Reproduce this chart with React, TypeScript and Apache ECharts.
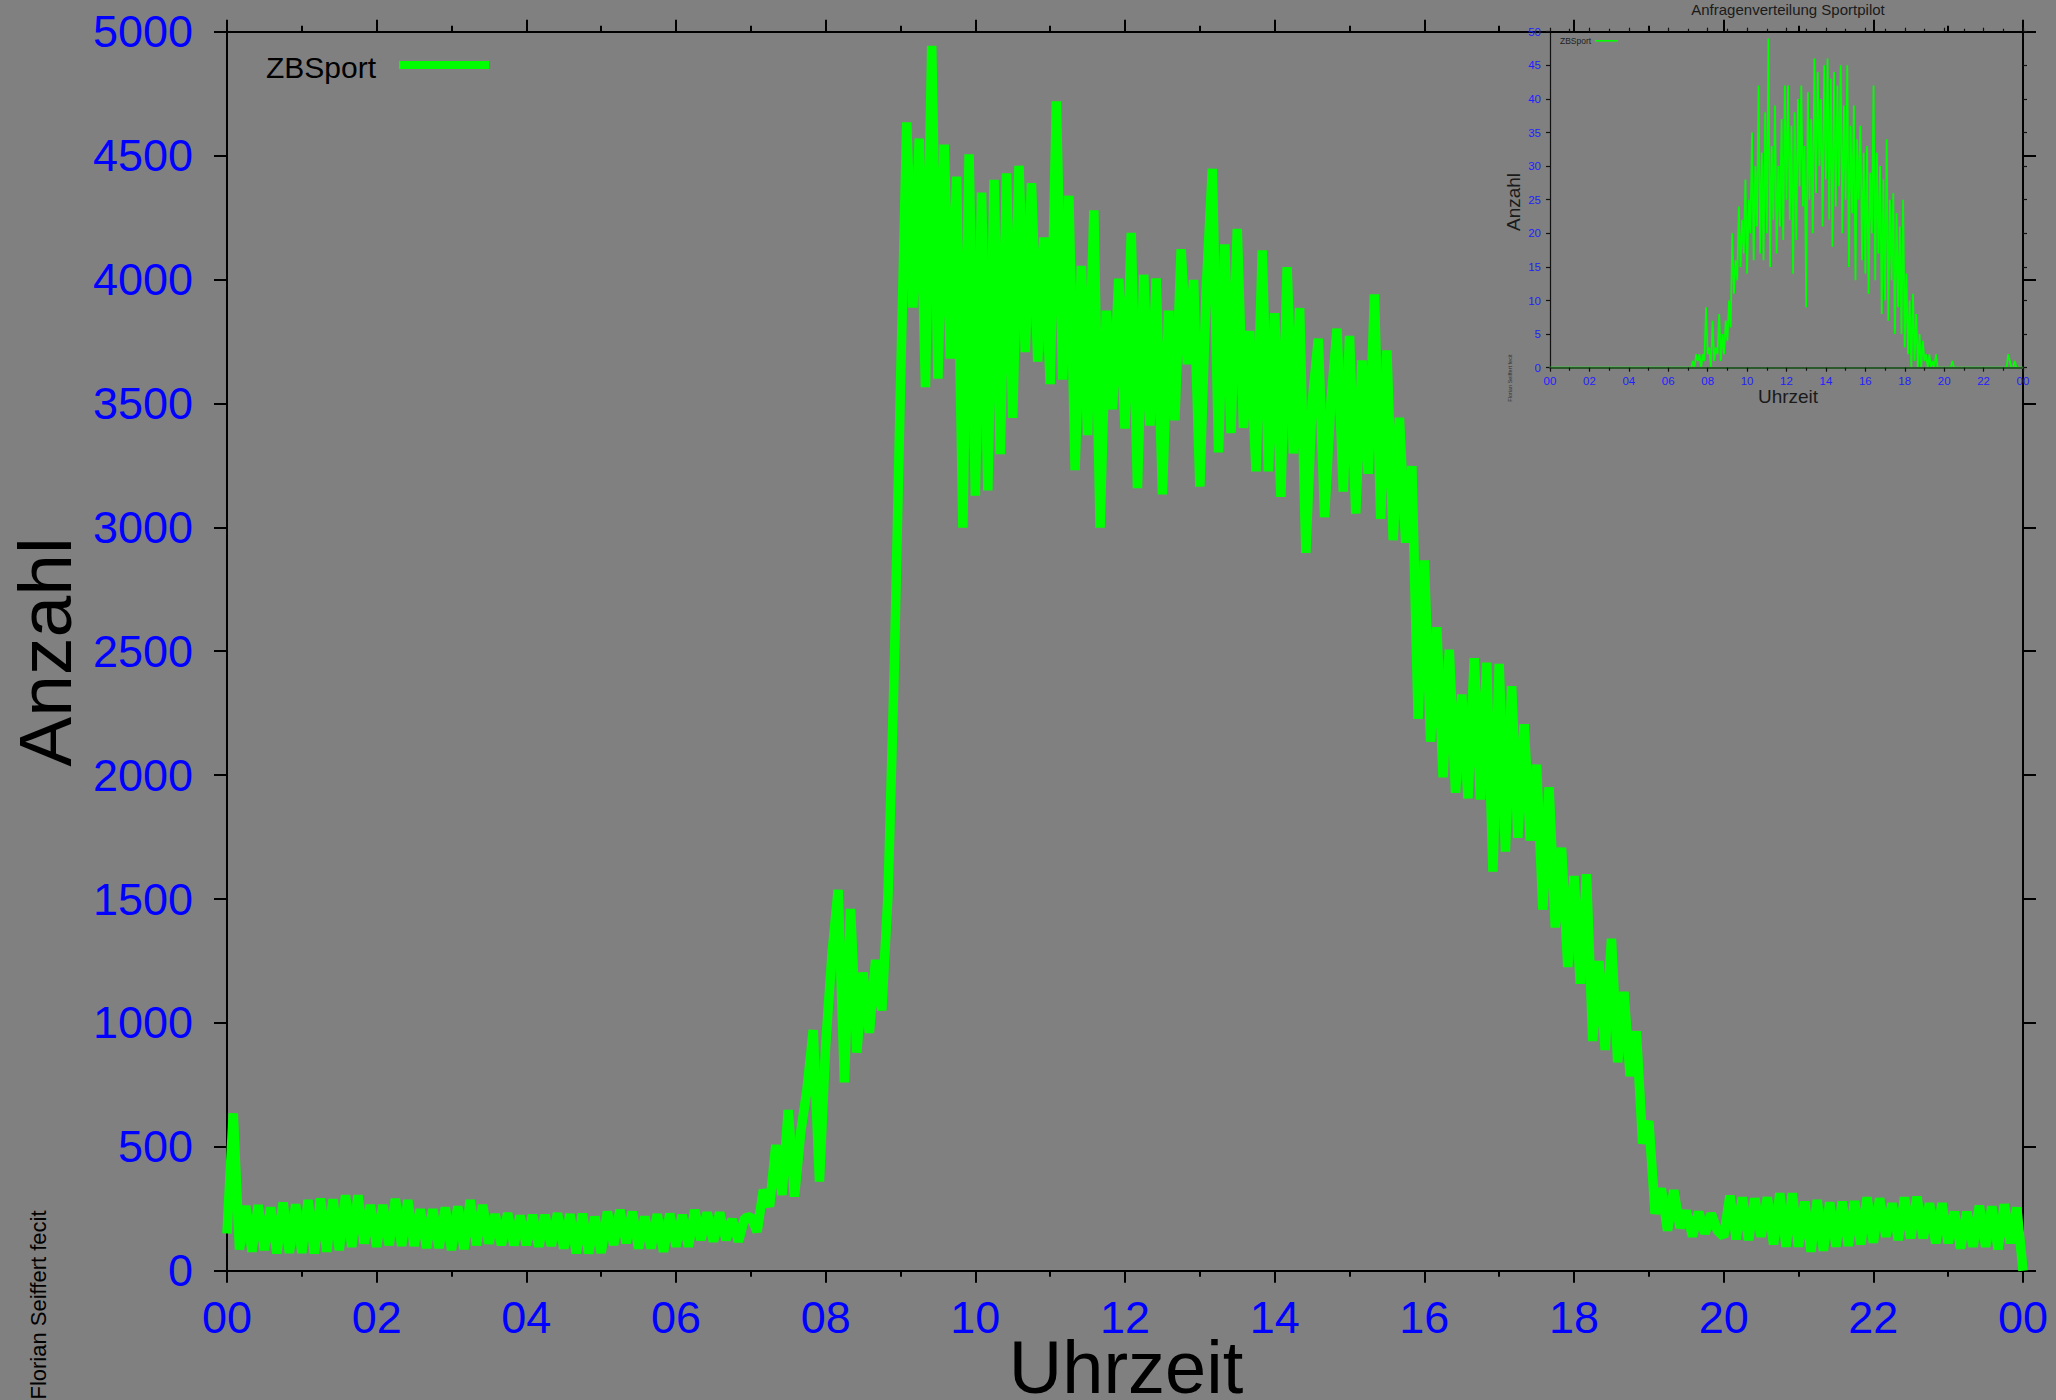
import React, { useEffect, useRef } from "react";
import * as echarts from "echarts";

const FONT = "'Liberation Sans', Arial, Helvetica, sans-serif";

// x tick labels (every 2 hours)
const hourLabels = ["00", "02", "04", "06", "08", "10", "12", "14", "16", "18", "20", "22", "00"];

// Main chart: requests per 5 minutes (12 values per hour, plus 24:00)
const zbSportMain = [
  150, 635, 85, 262, 77, 265, 83, 255, 70, 275, 72, 268,
  72, 285, 70, 291, 77, 288, 83, 304, 96, 304, 110, 265,
  96, 265, 103, 290, 100, 285, 100, 248, 92, 248, 92, 255,
  83, 259, 87, 285, 103, 265, 110, 228, 103, 232, 103, 222,
  104, 225, 97, 225, 100, 232, 90, 228, 70, 230, 70, 218,
  72, 238, 104, 245, 111, 238, 90, 218, 90, 228, 77, 230,
  97, 225, 97, 245, 124, 235, 118, 235, 124, 208, 118, 212,
  218, 157, 326, 259, 507, 306, 648, 299, 561, 729, 971, 360,
  911, 1275, 1537, 760, 1460, 880, 1203, 960, 1254, 1050, 1519, 2433,
  3578, 4634, 3887, 4569, 3566, 4943, 3600, 4544, 3681, 4415, 2999, 4505,
  3128, 4351, 3149, 4402, 3295, 4428, 3442, 4459, 3707, 4389, 3669, 4170,
  3578, 4719, 3596, 4338, 3231, 4055, 3372, 4279, 2999, 3874, 3476, 4003,
  3398, 4188, 3158, 4019, 3411, 4004, 3133, 3874, 3432, 4122, 3658, 3998,
  3164, 3947, 4447, 3302, 4142, 3380, 4204, 3401, 3792, 3226, 4117, 3226,
  3864, 3123, 4050, 3298, 3885, 2897, 3500, 3761, 3041, 3500, 3802, 3144,
  3772, 3055, 3673, 3216, 3940, 3034, 3714, 2948, 3442, 2938, 3247, 2227,
  2866, 2135, 2597, 1991, 2506, 1929, 2325, 1906, 2472, 1901, 2454, 1611,
  2449, 1691, 2359, 1747, 2205, 1736, 2042, 1457, 1951, 1385, 1707, 1226,
  1593, 1158, 1600, 927, 1249, 891, 1340, 841, 1125, 785, 966, 513,
  604, 230, 332, 162, 325, 173, 241, 139, 237, 150, 230, 162,
  137, 303, 127, 296, 124, 292, 137, 296, 106, 312, 97, 312,
  97, 279, 77, 285, 81, 276, 97, 279, 100, 281, 106, 296,
  113, 292, 137, 272, 124, 296, 131, 299, 131, 272, 111, 272,
  111, 238, 90, 238, 97, 262, 97, 259, 86, 268, 111, 255,
  0,
];

// Inset chart (Anfragenverteilung Sportpilot)
const zbSportInset = [
  0, 0, 0, 0, 0, 0, 0, 0, 0, 0, 0, 0,
  0, 0, 0, 0, 0, 0, 0, 0, 0, 0, 0, 0,
  0, 0, 0, 0, 0, 0, 0, 0, 0, 0, 0, 0,
  0, 0, 0, 0, 0, 0, 0, 0, 0, 0, 0, 0,
  0, 0, 0, 0, 0, 0, 0, 0, 0, 0, 0, 0,
  0, 0, 0, 0, 0, 0, 0, 0, 0, 0, 0, 0,
  0, 0, 0, 0, 0, 0, 0, 0, 0, 0, 0, 0,
  0, 0, 0, 1, 0, 2, 1, 2, 0, 2, 1, 9,
  2, 3, 0, 7, 1, 3, 2, 8, 1, 5, 2, 7,
  4, 10, 6, 20, 11, 16, 13, 24, 15, 22, 17, 28,
  14, 25, 20, 35, 16, 30, 21, 42, 17, 32, 16, 38,
  20, 49, 15, 33, 22, 39, 17, 30, 21, 37, 19, 42,
  25, 42, 22, 36, 14, 38, 19, 40, 27, 42, 24, 33,
  9, 41, 25, 37, 20, 46, 26, 44, 30, 40, 21, 45,
  28, 46, 22, 43, 18, 44, 24, 42, 27, 45, 20, 39,
  25, 45, 15, 36, 23, 39, 13, 34, 25, 36, 16, 32,
  14, 33, 11, 29, 20, 42, 13, 32, 17, 30, 8, 28,
  10, 34, 7, 25, 13, 26, 5, 23, 9, 21, 5, 25,
  3, 14, 2, 10, 0, 11, 1, 8, 0, 5, 0, 4,
  1, 2, 0, 2, 0, 1, 0, 2, 0, 0, 0, 0,
  0, 0, 0, 0, 0, 1, 0, 0, 0, 0, 0, 0,
  0, 0, 0, 0, 0, 0, 0, 0, 0, 0, 0, 0,
  0, 0, 0, 0, 0, 0, 0, 0, 0, 0, 0, 0,
  0, 0, 0, 2, 1, 0, 0, 1, 0, 0, 0, 0,
  0,
];

const SAMPLES_PER_HOUR = 12;

export default function App() {
  const ref = useRef<HTMLDivElement>(null);

  useEffect(() => {
    if (!ref.current) return;
    const chart = echarts.init(ref.current, undefined, { renderer: "svg" });

    const mainData = zbSportMain.map((v, i) => [i / SAMPLES_PER_HOUR, v]);
    const insetData = zbSportInset.map((v, i) => [i / SAMPLES_PER_HOUR, v]);
    const hourFmt = (v: number) => hourLabels[Math.round(v / 2)] ?? "";
    const plainFmt = (v: number) => String(v);

    const black2 = { color: "#000", width: 2 };
    const black1 = { color: "#111", width: 1.2 };
    const center = { align: "center", verticalAlign: "middle", textAlign: "center", textVerticalAlign: "middle" };
    const leftMid = { align: "left", verticalAlign: "middle", textAlign: "left", textVerticalAlign: "middle" };

    const option: any = {
      animation: false,
      backgroundColor: "#808080",
      grid: [
        { left: 227, top: 31.7, width: 1796, height: 1239 },
        { left: 1550, top: 31.7, width: 473, height: 336 },
      ],
      xAxis: [
        {
          gridIndex: 0, type: "value", min: 0, max: 24, interval: 2, position: "bottom",
          axisLine: { show: true, onZero: false, lineStyle: black2 },
          axisTick: { show: true, length: 12, lineStyle: black2 },
          minorTick: { show: true, splitNumber: 2, length: 6, lineStyle: black2 },
          axisLabel: { formatter: hourFmt, color: "#0000ff", fontSize: 45, fontFamily: FONT, margin: 24 },
          splitLine: { show: false },
        },
        {
          gridIndex: 0, type: "value", min: 0, max: 24, interval: 2, position: "top",
          axisLine: { show: true, onZero: false, lineStyle: black2 },
          axisTick: { show: true, length: 12, lineStyle: black2 },
          minorTick: { show: true, splitNumber: 2, length: 6, lineStyle: black2 },
          axisLabel: { show: false },
          splitLine: { show: false },
        },
        {
          gridIndex: 1, type: "value", min: 0, max: 24, interval: 2, position: "bottom", z: 4,
          axisLine: { show: true, onZero: false, lineStyle: { color: "#2a5a2a", width: 2 } },
          axisTick: { show: true, length: 4, lineStyle: black1 },
          minorTick: { show: true, splitNumber: 2, length: 3, lineStyle: black1 },
          axisLabel: { formatter: hourFmt, color: "#2020ff", fontSize: 11.5, fontFamily: FONT, margin: 7 },
          splitLine: { show: false },
        },
        {
          gridIndex: 1, type: "value", min: 0, max: 24, interval: 2, position: "top",
          axisLine: { show: false, onZero: false },
          axisTick: { show: true, length: 4, lineStyle: black1 },
          minorTick: { show: true, splitNumber: 2, length: 3, lineStyle: black1 },
          axisLabel: { show: false },
          splitLine: { show: false },
        },
      ],
      yAxis: [
        {
          gridIndex: 0, type: "value", min: 0, max: 5000, interval: 500, position: "left",
          axisLine: { show: true, onZero: false, lineStyle: black2 },
          axisTick: { show: true, length: 13, lineStyle: black2 },
          axisLabel: { formatter: plainFmt, color: "#0000ff", fontSize: 45, fontFamily: FONT, margin: 34, padding: [0, 0, 10, 0] },
          splitLine: { show: false },
        },
        {
          gridIndex: 0, type: "value", min: 0, max: 5000, interval: 500, position: "right",
          axisLine: { show: true, onZero: false, lineStyle: black2 },
          axisTick: { show: true, length: 13, lineStyle: black2 },
          axisLabel: { show: false },
          splitLine: { show: false },
        },
        {
          gridIndex: 1, type: "value", min: 0, max: 50, interval: 5, position: "left",
          axisLine: { show: true, onZero: false, lineStyle: black1 },
          axisTick: { show: true, length: 4, lineStyle: black1 },
          axisLabel: { formatter: plainFmt, color: "#2020ff", fontSize: 11.5, fontFamily: FONT, margin: 9 },
          splitLine: { show: false },
        },
        {
          gridIndex: 1, type: "value", min: 0, max: 50, interval: 5, position: "right",
          axisLine: { show: false, onZero: false },
          axisTick: { show: true, length: 4, lineStyle: black1 },
          axisLabel: { show: false },
          splitLine: { show: false },
        },
      ],
      series: [
        {
          name: "ZBSport", type: "line", xAxisIndex: 0, yAxisIndex: 0, data: mainData,
          symbol: "none", showSymbol: false, clip: false, z: 3,
          lineStyle: { color: "#00ff00", width: 9.5, join: "bevel" },
          itemStyle: { color: "#00ff00" },
        },
        {
          name: "ZBSport inset", type: "line", xAxisIndex: 2, yAxisIndex: 2, data: insetData,
          symbol: "none", showSymbol: false, clip: true, z: 3,
          lineStyle: { color: "#00ff00", width: 1.8 },
          itemStyle: { color: "#00ff00" },
        },
      ],
      graphic: [
        { type: "text", x: 45, y: 652, rotation: Math.PI / 2,
          style: { text: "Anzahl", fontSize: 75, fontFamily: FONT, fill: "#000", ...center } },
        { type: "text", x: 1126, y: 1367,
          style: { text: "Uhrzeit", fontSize: 74, lineHeight: 58, fontFamily: FONT, fill: "#000", ...center } },
        { type: "text", x: 38, y: 1305, rotation: Math.PI / 2,
          style: { text: "Florian Seiffert fecit", fontSize: 22, fontFamily: FONT, fill: "#000", ...center } },
        { type: "text", x: 266, y: 67,
          style: { text: "ZBSport", fontSize: 30, fontFamily: FONT, fill: "#000", ...leftMid } },
        { type: "rect", shape: { x: 399, y: 61, width: 90, height: 8 }, style: { fill: "#00ff00" } },
        // inset texts
        { type: "text", x: 1788, y: 9.5,
          style: { text: "Anfragenverteilung Sportpilot", fontSize: 15, fontFamily: FONT, fill: "#1a1a1a", ...center } },
        { type: "text", x: 1513, y: 202, rotation: Math.PI / 2,
          style: { text: "Anzahl", fontSize: 19, fontFamily: FONT, fill: "#1a1a1a", ...center } },
        { type: "text", x: 1788, y: 396,
          style: { text: "Uhrzeit", fontSize: 19, lineHeight: 16, fontFamily: FONT, fill: "#1a1a1a", ...center } },
        { type: "text", x: 1510, y: 378, rotation: Math.PI / 2,
          style: { text: "Florian Seiffert fecit", fontSize: 5.5, fontFamily: FONT, fill: "#333", ...center } },
        { type: "text", x: 1560, y: 41,
          style: { text: "ZBSport", fontSize: 8.5, fontFamily: FONT, fill: "#222", ...leftMid } },
        { type: "rect", shape: { x: 1595, y: 40, width: 23, height: 1.6 }, style: { fill: "#00ff00" } },
      ],
    };

    chart.setOption(option);
    return () => chart.dispose();
  }, []);

  return (
    <div
      ref={ref}
      style={{ position: "fixed", left: 0, top: 0, width: 2056, height: 1400, background: "#808080" }}
    />
  );
}
